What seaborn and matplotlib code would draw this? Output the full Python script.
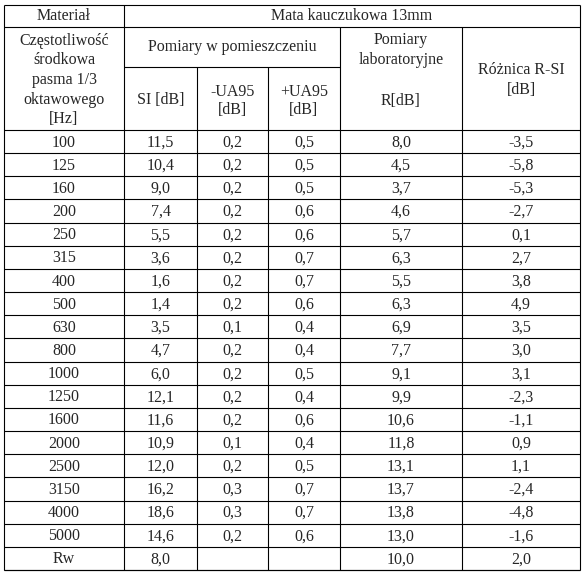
import matplotlib
matplotlib.use("Agg")
import matplotlib.pyplot as plt
import seaborn as sns

sns.set_style("white")
plt.rcParams['font.family'] = ['Liberation Serif', 'DejaVu Serif']

freqs = ["100","125","160","200","250","315","400","500","630","800","1000","1250","1600","2000","2500","3150","4000","5000","Rw"]
si = ["11,5","10,4","9,0","7,4","5,5","3,6","1,6","1,4","3,5","4,7","6,0","12,1","11,6","10,9","12,0","16,2","18,6","14,6","8,0"]
ua_minus = ["0,2","0,2","0,2","0,2","0,2","0,2","0,2","0,2","0,1","0,2","0,2","0,2","0,2","0,1","0,2","0,3","0,3","0,2",""]
ua_plus = ["0,5","0,5","0,5","0,6","0,6","0,7","0,7","0,6","0,4","0,4","0,5","0,4","0,6","0,4","0,5","0,7","0,7","0,6",""]
r_lab = ["8,0","4,5","3,7","4,6","5,7","6,3","5,5","6,3","6,9","7,7","9,1","9,9","10,6","11,8","13,1","13,7","13,8","13,0","10,0"]
diff = ["-3,5","-5,8","-5,3","-2,7","0,1","2,7","3,8","4,9","3,5","3,0","3,1","-2,3","-1,1","0,9","1,1","-2,4","-4,8","-1,6","2,0"]

W, H = 584, 573
fig = plt.figure(figsize=(W/100, H/100), dpi=100)
ax = fig.add_axes([0, 0, 1, 1])
ax.set_xlim(0, W); ax.set_ylim(H, 0); ax.axis("off")

xs = [4, 124, 197, 268, 340, 462, 580]
y0, y1, y2, y3, yend = 5, 27, 67, 130, 570
nrows = len(freqs)
rh = (yend - y3) / nrows
fs = 11.5
lw = 0.8
c = "black"

ax.hlines([y0, yend], xs[0], xs[-1], color=c, lw=lw)
ax.hlines(y1, xs[0], xs[-1], color=c, lw=lw)
ax.hlines(y2, xs[1], xs[4], color=c, lw=lw)
for i in range(nrows + 1):
    ax.hlines(y3 + i*rh, xs[0], xs[-1], color=c, lw=lw)
ax.vlines([xs[0], xs[-1]], y0, yend, color=c, lw=lw)
ax.vlines(xs[1], y0, yend, color=c, lw=lw)
ax.vlines([xs[2], xs[3]], y2, yend, color=c, lw=lw)
ax.vlines([xs[4], xs[5]], y1, yend, color=c, lw=lw)

def t(x, y, s, ls=1.2):
    ax.text(x, y, s, ha="center", va="center", fontsize=fs, linespacing=ls)

mid = lambda a, b: (a + b) / 2
t(mid(xs[0], xs[1]), mid(y0, y1), "Materiał")
t(mid(xs[1], xs[-1]), mid(y0, y1), "Mata kauczukowa 13mm")
t(mid(xs[0], xs[1]), 80, "Częstotliwość\nśrodkowa\npasma 1/3\noktawowego\n[Hz]", ls=1.3)
t(mid(xs[1], xs[4]), mid(y1, y2), "Pomiary w pomieszczeniu")
t(mid(xs[4], xs[5]), 50, "Pomiary\nlaboratoryjne", ls=1.25)
t(mid(xs[5], xs[6]), 80, "Różnica R-SI\n[dB]", ls=1.25)
t(mid(xs[1], xs[2]), 100, "SI [dB]")
t(mid(xs[2], xs[3]), 101, "-UA95\n[dB]")
t(mid(xs[3], xs[4]), 101, "+UA95\n[dB]")
t(mid(xs[4], xs[5]), 101, "R[dB]")

cols = [freqs, si, ua_minus, ua_plus, r_lab, diff]
for i in range(nrows):
    yc = y3 + (i + 0.5) * rh + 1
    for j, col in enumerate(cols):
        t(mid(xs[j], xs[j+1]), yc, col[i])

fig.savefig("out.png", dpi=100, facecolor="white")
